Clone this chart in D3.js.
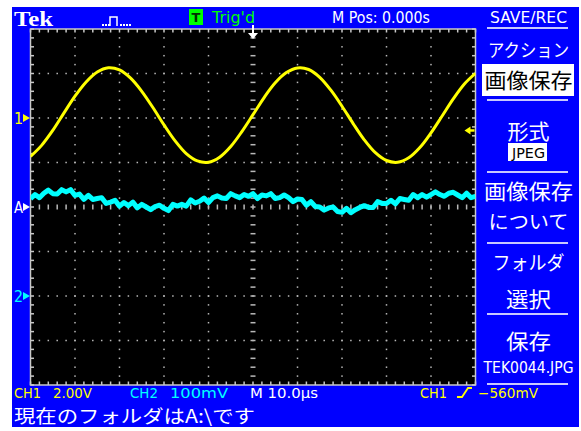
<!DOCTYPE html>
<html>
<head>
<meta charset="utf-8">
<script src="https://cdn.jsdelivr.net/npm/d3@7"></script>
<style>
body { margin: 0; background: #fff; }
svg { display: block; }
</style>
</head>
<body>
<svg id="scope"></svg>
<script>
// CH1 (yellow) in volts, one sample every 2.5 us starting at -50 us
var ch1Volts = [-1.73, -1.23, -0.56, 0.22, 0.98, 1.62, 2.07, 2.26, 2.16, 1.79,
                1.20, 0.47, -0.31, -1.03, -1.60, -1.93, -1.99, -1.76, -1.28, -0.61,
                0.15, 0.92, 1.58, 2.04, 2.25, 2.18, 1.83, 1.25, 0.53, -0.25,
                -0.98, -1.56, -1.91, -1.99, -1.79, -1.33, -0.67, 0.09, 0.86, 1.53, 2.01]
var ch1Start = -50, ch1Step = 2.5

// CH2 (cyan) in mV, one sample every 1 us starting at -50 us
var ch2mV = [219, 228, 221, 231, 238, 230, 229, 239, 234, 239,
             226, 229, 217, 226, 217, 219, 221, 208, 211, 215,
             202, 210, 203, 211, 198, 206, 200, 194, 201, 204,
             197, 192, 206, 202, 206, 202, 216, 209, 213, 220,
             210, 221, 225, 220, 219, 230, 225, 221, 228, 224,
             230, 219, 227, 225, 230, 219, 221, 227, 221, 212,
             218, 217, 204, 212, 201, 200, 193, 198, 200, 190,
             188, 197, 187, 194, 199, 203, 199, 199, 212, 208,
             208, 215, 207, 219, 217, 215, 228, 221, 228, 222,
             228, 234, 228, 224, 231, 233, 227, 221, 231, 221, 224]
var ch2Start = -50, ch2Step = 1

var trigLevel = -0.56   // volts, CH1 rising edge

var menuLabels = ["アクション", "画像保存", "形式", "JPEG", "画像保存", "について", "フォルダ", "選択", "保存", "TEK0044.JPG"]
var statusLabels = ["CH1", "2.00V", "CH2", "100mV", "M 10.0\u00b5s", "CH1", "\u2212560mV"]
var topLabels = ["Tek", "Trig'd", "M Pos: 0.000s", "SAVE/REC"]
var footer = "現在のフォルダはA:\\です"

var dims = {
    width: 581,
    height: 431,
    grid: { left: 30.5, top: 29, right: 475.5, bottom: 385 },
    xDivs: 10,
    yDivs: 8
}

var blue = "#0000ff", yellow = "#ffff00", cyan = "#00ffff", gridGray = "#b8b8b8"
var sans = "'DejaVu Sans', sans-serif", jp = "'Noto Sans CJK JP', sans-serif"

var svg = d3.select("#scope")
    .attr("width", dims.width)
    .attr("height", dims.height)

// blue screen background
svg.append("rect")
    .attr("x", 12).attr("y", 7)
    .attr("width", 567).attr("height", 420)
    .attr("fill", blue)

// scales
var xScale = d3.scaleLinear().domain([-50, 50]).range([dims.grid.left, dims.grid.right])
var y1Scale = d3.scaleLinear().domain([4, -12]).range([dims.grid.top, dims.grid.bottom])
var y2Scale = d3.scaleLinear().domain([600, -200]).range([dims.grid.top, dims.grid.bottom])
var xDiv = d3.scaleLinear().domain([0, dims.xDivs]).range([dims.grid.left, dims.grid.right])
var yDiv = d3.scaleLinear().domain([0, dims.yDivs]).range([dims.grid.top, dims.grid.bottom])

// black graticule
svg.append("rect")
    .attr("x", dims.grid.left).attr("y", dims.grid.top)
    .attr("width", dims.grid.right - dims.grid.left)
    .attr("height", dims.grid.bottom - dims.grid.top)
    .attr("fill", "#000")

var grid = svg.append("g")

var xMinor = d3.range(0, dims.xDivs * 5 + 1).map(i => i / 5)
var yMinor = d3.range(0, dims.yDivs * 5 + 1).map(i => i / 5)

// dotted division lines
d3.range(1, dims.xDivs).filter(i => i != 5).forEach(function(i) {
    grid.append("g").selectAll("rect").data(yMinor.slice(1, -1)).enter()
        .append("rect")
        .attr("x", xDiv(i) - 0.75).attr("y", d => yDiv(d) - 0.75)
        .attr("width", 1.5).attr("height", 1.5)
        .attr("fill", gridGray)
})
d3.range(1, dims.yDivs).filter(i => i != 4).forEach(function(i) {
    grid.append("g").selectAll("rect").data(xMinor.slice(1, -1)).enter()
        .append("rect")
        .attr("x", d => xDiv(d) - 0.75).attr("y", yDiv(i) - 0.75)
        .attr("width", 1.5).attr("height", 1.5)
        .attr("fill", gridGray)
})

// centre cross with minor ticks
grid.append("g").selectAll("rect").data(yMinor.slice(1, -1)).enter()
    .append("rect")
    .attr("x", xDiv(5) - 2.5).attr("y", d => yDiv(d) - 0.75)
    .attr("width", 5).attr("height", 1.5)
    .attr("fill", gridGray)
grid.append("g").selectAll("rect").data(xMinor.slice(1, -1)).enter()
    .append("rect")
    .attr("x", d => xDiv(d) - 0.75).attr("y", yDiv(4) - 2.5)
    .attr("width", 1.5).attr("height", 5)
    .attr("fill", gridGray)

// frame with inward ticks
grid.append("rect")
    .attr("x", dims.grid.left).attr("y", dims.grid.top)
    .attr("width", dims.grid.right - dims.grid.left)
    .attr("height", dims.grid.bottom - dims.grid.top)
    .attr("fill", "none").attr("stroke", "#c8c8c8").attr("stroke-width", 1.5)

grid.append("g").selectAll("line").data(xMinor).enter()
    .append("line")
    .attr("x1", d => xDiv(d)).attr("x2", d => xDiv(d))
    .attr("y1", dims.grid.top).attr("y2", dims.grid.top + 3.5)
    .attr("stroke", "#c8c8c8").attr("stroke-width", 1.5)
grid.append("g").selectAll("line").data(xMinor).enter()
    .append("line")
    .attr("x1", d => xDiv(d)).attr("x2", d => xDiv(d))
    .attr("y1", dims.grid.bottom).attr("y2", dims.grid.bottom - 3.5)
    .attr("stroke", "#c8c8c8").attr("stroke-width", 1.5)
grid.append("g").selectAll("line").data(yMinor).enter()
    .append("line")
    .attr("y1", d => yDiv(d)).attr("y2", d => yDiv(d))
    .attr("x1", dims.grid.left).attr("x2", dims.grid.left + 3.5)
    .attr("stroke", "#c8c8c8").attr("stroke-width", 1.5)
grid.append("g").selectAll("line").data(yMinor).enter()
    .append("line")
    .attr("y1", d => yDiv(d)).attr("y2", d => yDiv(d))
    .attr("x1", dims.grid.right).attr("x2", dims.grid.right - 3.5)
    .attr("stroke", "#c8c8c8").attr("stroke-width", 1.5)

// waveforms
svg.append("clipPath").attr("id", "gridClip")
    .append("rect")
    .attr("x", dims.grid.left).attr("y", dims.grid.top)
    .attr("width", dims.grid.right - dims.grid.left)
    .attr("height", dims.grid.bottom - dims.grid.top)

var traces = svg.append("g").attr("clip-path", "url(#gridClip)")

var ch2Line = d3.line()
    .x((d, i) => xScale(ch2Start + i * ch2Step))
    .y(d => y2Scale(d))
traces.append("path")
    .datum(ch2mV)
    .attr("d", ch2Line)
    .attr("fill", "none")
    .attr("stroke", cyan)
    .attr("stroke-width", 5)
    .attr("stroke-linejoin", "round")

var ch1Line = d3.line()
    .x((d, i) => xScale(ch1Start + i * ch1Step))
    .y(d => y1Scale(d))
    .curve(d3.curveCatmullRom)
traces.append("path")
    .datum(ch1Volts)
    .attr("d", ch1Line)
    .attr("fill", "none")
    .attr("stroke", yellow)
    .attr("stroke-width", 3)

// trigger position marker (top) and level marker (right)
var tx = xScale(0)
svg.append("line")
    .attr("x1", tx).attr("x2", tx).attr("y1", 25).attr("y2", 34)
    .attr("stroke", "#fff").attr("stroke-width", 2)
svg.append("path")
    .attr("d", `M${tx - 5},33 L${tx + 5},33 L${tx},39 Z`)
    .attr("fill", "#fff")

var ty = y1Scale(trigLevel)
svg.append("path")
    .attr("d", `M${dims.grid.right - 11},${ty} L${dims.grid.right - 5},${ty - 4} L${dims.grid.right - 5},${ty + 4} Z`)
    .attr("fill", yellow)
svg.append("line")
    .attr("x1", dims.grid.right - 6).attr("x2", dims.grid.right - 1)
    .attr("y1", ty).attr("y2", ty)
    .attr("stroke", yellow).attr("stroke-width", 2.5)

// channel ground markers on the left
var markers = [
    { label: "1", y: y1Scale(0), color: yellow },
    { label: "A", y: yDiv(4), color: "#fff" },
    { label: "2", y: y2Scale(0), color: cyan }
]
markers.forEach(function(m) {
    svg.append("text")
        .attr("x", 14).attr("y", m.y + 6)
        .attr("font-family", sans).attr("font-size", 16)
        .attr("fill", m.color)
        .attr("textLength", 9).attr("lengthAdjust", "spacingAndGlyphs")
        .text(m.label)
    svg.append("path")
        .attr("d", `M23,${m.y - 4} L30,${m.y} L23,${m.y + 4} Z`)
        .attr("fill", m.color)
})

function label(txt, x, y, size, color, width, family, anchor) {
    var t = svg.append("text")
        .attr("x", x).attr("y", y)
        .attr("font-family", family || sans)
        .attr("font-size", size)
        .attr("fill", color)
        .attr("text-anchor", anchor || "start")
        .text(txt)
    if (width) t.attr("textLength", width).attr("lengthAdjust", "spacingAndGlyphs")
    return t
}

// top bar
label(topLabels[0], 14, 26, 21, "#fff", 39, "'Liberation Serif', serif").attr("font-weight", "bold")
svg.append("path")
    .attr("d", "M110,26 L110,17 L117,17 L117,26")
    .attr("fill", "none").attr("stroke", "#fff").attr("stroke-width", 1.5)
svg.append("g").selectAll("rect").data([102, 105, 108, 120, 123, 126, 129]).enter()
    .append("rect")
    .attr("x", d => d).attr("y", 24)
    .attr("width", 2).attr("height", 2)
    .attr("fill", "#fff")
svg.append("rect")
    .attr("x", 189).attr("y", 9).attr("width", 14).attr("height", 16)
    .attr("fill", "#00ff00")
label("T", 196, 22, 13, "#003000", null, sans, "middle").attr("font-weight", "bold")
label(topLabels[1], 212, 23, 16, "#00ff00", 43)
label(topLabels[2], 332, 23, 15, "#fff", 98)
label(topLabels[3], 490, 23, 15, "#fff", 77)

// right menu
var sepYs = [28, 100, 172, 243, 314, 384]
svg.append("g").selectAll("line").data(sepYs).enter()
    .append("line")
    .attr("x1", 487).attr("x2", 568)
    .attr("y1", d => d).attr("y2", d => d)
    .attr("stroke", "#c8c8ff").attr("stroke-width", 2)

svg.append("rect").attr("x", 482).attr("y", 64).attr("width", 92).attr("height", 32).attr("fill", "#fff")
svg.append("rect").attr("x", 508).attr("y", 143).attr("width", 39).attr("height", 18).attr("fill", "#fff")

var menuLayout = [
    { y: 57, size: 18, color: "#fff", w: 81 },
    { y: 88, size: 21, color: "#000", w: 88 },
    { y: 139, size: 21, color: "#fff", w: 42 },
    { y: 158, size: 14, color: "#000", w: 33 },
    { y: 199, size: 21, color: "#fff", w: 89 },
    { y: 229, size: 19, color: "#fff", w: 80 },
    { y: 270, size: 19, color: "#fff", w: 72 },
    { y: 307, size: 21, color: "#fff", w: 45 },
    { y: 349, size: 21, color: "#fff", w: 45 },
    { y: 373, size: 15, color: "#fff", w: 90 }
]
menuLabels.forEach(function(txt, i) {
    var m = menuLayout[i]
    var ascii = /^[A-Z0-9.]+$/.test(txt)
    label(txt, 528.5, m.y, m.size, m.color, m.w, ascii ? sans : jp, "middle")
})

// status line
label(statusLabels[0], 14, 398, 14, yellow, 27)
label(statusLabels[1], 53, 398, 14, yellow, 39)
label(statusLabels[2], 130, 398, 14, cyan, 28)
label(statusLabels[3], 170, 398, 14, cyan, 58)
label(statusLabels[4], 250, 398, 14, "#fff", 68)
label(statusLabels[5], 420, 398, 14, yellow, 27)
svg.append("path")
    .attr("d", "M457,397 L462,397 L468,388 L472,388")
    .attr("fill", "none").attr("stroke", yellow).attr("stroke-width", 1.8)
label(statusLabels[6], 478, 398, 14, yellow, 60)

label(footer, 14, 423, 18, "#fff", 241, jp)
</script>
</body>
</html>
